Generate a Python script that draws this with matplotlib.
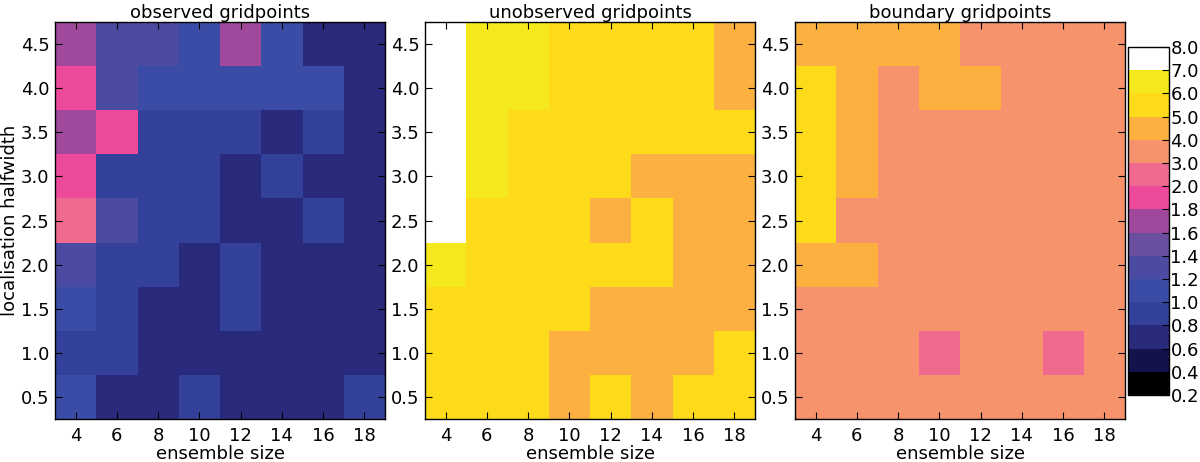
import numpy as np
import matplotlib
matplotlib.use("Agg")
import matplotlib.pyplot as plt
from matplotlib.colors import ListedColormap, BoundaryNorm

ensemble_sizes = [4, 6, 8, 10, 12, 14, 16, 18]
halfwidths = [0.5, 1.0, 1.5, 2.0, 2.5, 3.0, 3.5, 4.0, 4.5]
bounds = [0.2, 0.4, 0.6, 0.8, 1.0, 1.2, 1.4, 1.6, 1.8, 2.0, 3.0, 4.0, 5.0, 6.0, 7.0, 8.0]
cbar_labels = ["0.2", "0.4", "0.6", "0.8", "1.0", "1.2", "1.4", "1.6", "1.8",
               "2.0", "3.0", "4.0", "5.0", "6.0", "7.0", "8.0"]
level_colors = ["#000000", "#14124a", "#2a2a7c", "#33419a", "#3a4ca6", "#4c4ba2",
                "#6a4fa0", "#a0489c", "#ee4a9c", "#f06a90", "#f6926c", "#fbb040",
                "#fddb1a", "#f5e91e", "#ffffff"]

# rows: halfwidth 0.5 .. 4.5 ; columns: ensemble size 4 .. 18
observed = [
    [1.1, 0.7, 0.7, 0.9, 0.7, 0.7, 0.7, 0.9],
    [0.9, 0.9, 0.7, 0.7, 0.7, 0.7, 0.7, 0.7],
    [1.1, 0.9, 0.7, 0.7, 0.9, 0.7, 0.7, 0.7],
    [1.3, 0.9, 0.9, 0.7, 0.9, 0.7, 0.7, 0.7],
    [2.5, 1.3, 0.9, 0.9, 0.7, 0.7, 0.9, 0.7],
    [1.9, 0.9, 0.9, 0.9, 0.7, 0.9, 0.7, 0.7],
    [1.7, 1.9, 0.9, 0.9, 0.9, 0.7, 0.9, 0.7],
    [1.9, 1.3, 1.1, 1.1, 1.1, 1.1, 1.1, 0.7],
    [1.7, 1.3, 1.3, 1.1, 1.7, 1.1, 0.7, 0.7],
]
unobserved = [
    [5.5, 5.5, 5.5, 4.5, 5.5, 4.5, 5.5, 5.5],
    [5.5, 5.5, 5.5, 4.5, 4.5, 4.5, 4.5, 5.5],
    [5.5, 5.5, 5.5, 5.5, 4.5, 4.5, 4.5, 4.5],
    [6.5, 5.5, 5.5, 5.5, 5.5, 5.5, 4.5, 4.5],
    [7.5, 5.5, 5.5, 5.5, 4.5, 5.5, 4.5, 4.5],
    [7.5, 6.5, 5.5, 5.5, 5.5, 4.5, 4.5, 4.5],
    [7.5, 6.5, 5.5, 5.5, 5.5, 5.5, 5.5, 5.5],
    [7.5, 6.5, 6.5, 5.5, 5.5, 5.5, 5.5, 4.5],
    [7.5, 6.5, 6.5, 5.5, 5.5, 5.5, 5.5, 4.5],
]
boundary = [
    [3.5, 3.5, 3.5, 3.5, 3.5, 3.5, 3.5, 3.5],
    [3.5, 3.5, 3.5, 2.5, 3.5, 3.5, 2.5, 3.5],
    [3.5, 3.5, 3.5, 3.5, 3.5, 3.5, 3.5, 3.5],
    [4.5, 4.5, 3.5, 3.5, 3.5, 3.5, 3.5, 3.5],
    [5.5, 3.5, 3.5, 3.5, 3.5, 3.5, 3.5, 3.5],
    [5.5, 4.5, 3.5, 3.5, 3.5, 3.5, 3.5, 3.5],
    [5.5, 4.5, 3.5, 3.5, 3.5, 3.5, 3.5, 3.5],
    [5.5, 4.5, 3.5, 4.5, 4.5, 3.5, 3.5, 3.5],
    [4.5, 4.5, 4.5, 4.5, 3.5, 3.5, 3.5, 3.5],
]
titles = ["observed gridpoints", "unobserved gridpoints", "boundary gridpoints"]

cmap = ListedColormap(level_colors)
norm = BoundaryNorm(bounds, cmap.N)

plt.rcParams['font.family'] = ['DejaVu Sans']
FS = 13

fig = plt.figure(figsize=(12, 4.62), dpi=100)
lefts = [55/1200, 425/1200, 795/1200]
bottom = 43/462
height = 397/462
width = 330/1200

x = np.array(ensemble_sizes, dtype=float)
y = np.array(halfwidths, dtype=float)
xe = np.concatenate([x - 1, [x[-1] + 1]])
ye = np.concatenate([y - 0.25, [y[-1] + 0.25]])

mesh = None
for i, (data, title) in enumerate(zip([observed, unobserved, boundary], titles)):
    ax = fig.add_axes([lefts[i], bottom, width, height])
    mesh = ax.pcolormesh(xe, ye, np.array(data), cmap=cmap, norm=norm)
    ax.set_xlim(xe[0], xe[-1])
    ax.set_ylim(ye[0], ye[-1])
    ax.set_xticks(ensemble_sizes)
    ax.set_yticks(halfwidths)
    ax.set_yticklabels([f"{v:.1f}" for v in halfwidths])
    ax.tick_params(direction='in', top=True, right=True, length=5, width=0.8,
                   labelsize=FS, pad=4)
    ax.tick_params(axis='x', pad=6)
    ax.set_title(title, fontsize=FS, pad=3)
    ax.set_xlabel("ensemble size", fontsize=FS, labelpad=0)
    if i == 0:
        ax.set_ylabel("localisation halfwidth", fontsize=FS, labelpad=1)
    for s in ax.spines.values():
        s.set_linewidth(1.0)

cax = fig.add_axes([1128/1200, 67/462, 41/1200, 348/462])
cb = fig.colorbar(mesh, cax=cax, boundaries=bounds, ticks=bounds, spacing='uniform')
cb.set_ticklabels(cbar_labels)
cax.tick_params(direction='in', length=5, labelsize=FS, pad=1)
cb.outline.set_linewidth(1.0)

fig.savefig("out.png", dpi=100)
